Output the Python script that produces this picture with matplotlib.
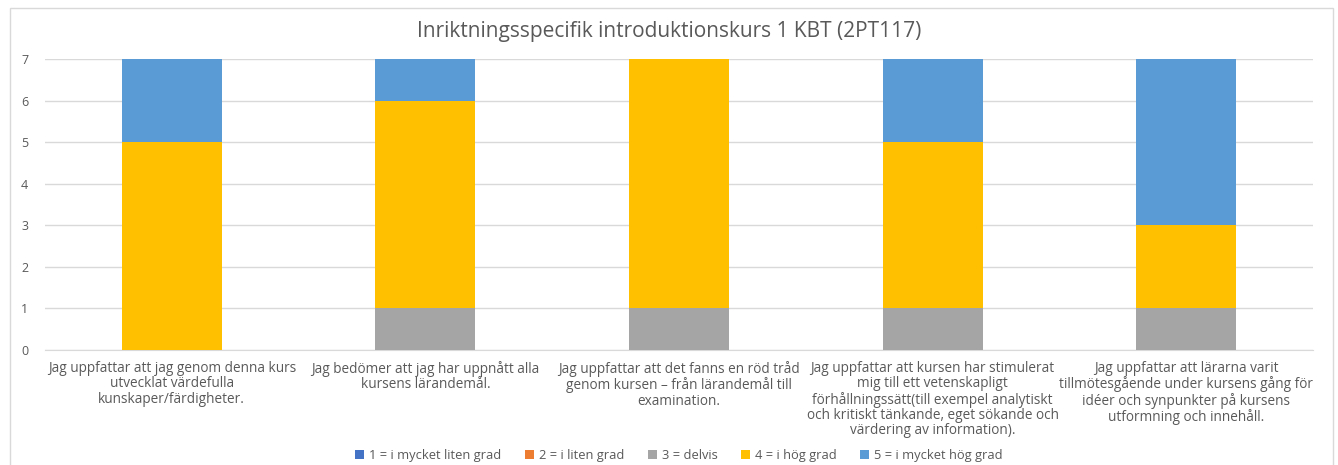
import matplotlib.pyplot as plt
import numpy as np
from matplotlib.patches import Rectangle

plt.rcParams['font.family'] = ['Open Sans', 'DejaVu Sans']

title = 'Inriktningsspecifik introduktionskurs 1 KBT (2PT117)'
categories = [
    'Jag uppfattar att jag genom denna kurs\nutvecklat värdefulla\nkunskaper/färdigheter.',
    'Jag bedömer att jag har uppnått alla\nkursens lärandemål.',
    'Jag uppfattar att det fanns en röd tråd\ngenom kursen – från lärandemål till\nexamination.',
    'Jag uppfattar att kursen har stimulerat\nmig till ett vetenskapligt\nförhållningssätt(till exempel analytiskt\noch kritiskt tänkande, eget sökande och\nvärdering av information).',
    'Jag uppfattar att lärarna varit\ntillmötesgående under kursens gång för\nidéer och synpunkter på kursens\nutformning och innehåll.',
]
series_names = ['1 = i mycket liten grad', '2 = i liten grad', '3 = delvis',
                '4 = i hög grad', '5 = i mycket hög grad']
s1 = [0, 0, 0, 0, 0]
s2 = [0, 0, 0, 0, 0]
s3 = [0, 1, 1, 1, 1]
s4 = [5, 5, 6, 4, 2]
s5 = [2, 1, 0, 2, 4]
colors = ['#4472C4', '#ED7D31', '#A5A5A5', '#FFC000', '#5B9BD5']

fig = plt.figure(figsize=(13.38, 4.65), dpi=100)
ax = fig.add_axes([45 / 1338, 1 - 350 / 465, (1313 - 45) / 1338, (350 - 59) / 465])

x = np.arange(len(categories))
bottom = np.zeros(len(categories))
for vals, name, c in zip([s1, s2, s3, s4, s5], series_names, colors):
    ax.bar(x, vals, width=0.395, bottom=bottom, color=c, label=name, zorder=3)
    bottom += np.array(vals)

ax.set_xlim(-0.5, len(categories) - 0.5)
ax.set_ylim(0, 7)
ax.set_yticks(range(0, 8))
ax.yaxis.grid(True, color='#D9D9D9', linewidth=1, zorder=0)
for s in ['top', 'right', 'left']:
    ax.spines[s].set_visible(False)
ax.spines['bottom'].set_color('#D9D9D9')
ax.tick_params(axis='both', length=0, colors='#595959', labelsize=9)
ax.tick_params(axis='y', pad=12)
ax.tick_params(axis='x', pad=8)
ax.set_xticks(x)
ax.set_xticklabels(categories, fontsize=9.8, color='#595959', linespacing=1.02)

fig.text(0.5, 1 - 32 / 465, title, ha='center', va='center', fontsize=15, color='#595959')

ax.legend(loc='upper center', bbox_to_anchor=(0.5, -0.3), ncol=5, frameon=False,
          fontsize=9.3, handlelength=0.7, handleheight=0.7, columnspacing=1.8,
          handletextpad=0.4, labelcolor='#595959')

fig.patches.append(Rectangle((10 / 1338, -0.01), 1323 / 1338, 1 - 8 / 465 + 0.01,
                             transform=fig.transFigure, fill=False,
                             edgecolor='#D9D9D9', linewidth=1))

fig.savefig('out.png', dpi=100)
